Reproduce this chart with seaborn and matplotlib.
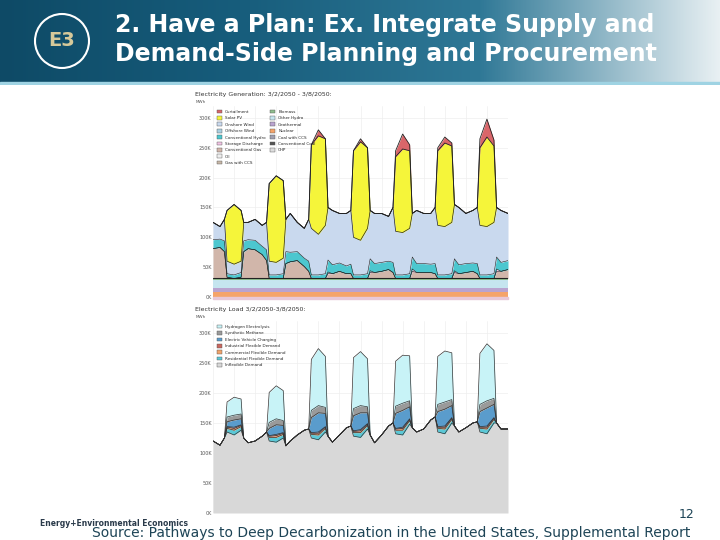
import numpy as np
import seaborn as sns
import matplotlib.pyplot as plt
from matplotlib.patches import Patch, Ellipse
from matplotlib.colors import LinearSegmentedColormap

# ---- data, thousands of MWh, sampled each day at these hours, 3/2/2050 to 3/9 00:00 ----
sample_hours = [0, 4, 6.5, 8, 12, 16, 17.5, 20]
n_days = 7

# generation: constant bottom bands
nuclear = 9
geothermal = 6
other_hydro = 14
biomass = 2
gas = [50, 52, 45, 2, 0, 2, 45, 50,
       48, 40, 30, 0, 0, 0, 25, 28,
       30, 20, 12, 0, 0, 0, 8, 8,
       12, 8, 8, 0, 0, 0, 10, 10,
       12, 15, 10, 0, 0, 0, 12, 10,
       10, 10, 8, 0, 0, 0, 10, 8,
       10, 12, 8, 0, 0, 0, 12, 12, 15]
storage = [0, 0, 0, 0, 0, 0, 0, 0,
           0, 0, 0, 0, 0, 0, 0, 0,
           0, 0, 0, 0, 0, 0, 3, 0,
           0, 0, 0, 0, 0, 0, 3, 0,
           0, 0, 0, 0, 0, 0, 4, 0,
           0, 0, 0, 0, 0, 0, 3, 0,
           0, 0, 0, 0, 0, 0, 4, 0, 0]
conv_hydro = [15, 14, 18, 6, 6, 8, 18, 15,
              16, 14, 18, 6, 6, 8, 20, 16,
              15, 14, 17, 6, 6, 8, 20, 15,
              14, 13, 16, 6, 6, 8, 20, 15,
              15, 14, 17, 6, 6, 8, 20, 15,
              15, 14, 17, 6, 6, 8, 20, 15,
              15, 14, 17, 6, 6, 8, 20, 15, 15]
wind_top = [125, 118, 130, 60, 55, 60, 125, 125,
            130, 120, 125, 60, 58, 65, 130, 140,
            125, 115, 130, 115, 105, 120, 150, 145,
            140, 140, 145, 100, 95, 115, 145, 140,
            140, 135, 150, 110, 108, 115, 140, 145,
            140, 140, 150, 120, 118, 125, 155, 150,
            140, 145, 150, 120, 118, 125, 150, 145, 140]
solar = [0, 0, 0, 85, 100, 85, 0, 0,
         0, 0, 0, 130, 145, 130, 0, 0,
         0, 0, 0, 140, 165, 145, 0, 0,
         0, 0, 0, 145, 165, 135, 0, 0,
         0, 0, 0, 125, 140, 130, 0, 0,
         0, 0, 0, 125, 140, 128, 0, 0,
         0, 0, 0, 130, 150, 128, 0, 0, 0]
curtailment = [0, 0, 0, 0, 0, 0, 0, 0,
               0, 0, 0, 0, 0, 0, 0, 0,
               0, 0, 0, 0, 10, 0, 0, 0,
               0, 0, 0, 0, 5, 0, 0, 0,
               0, 0, 0, 10, 25, 10, 0, 0,
               0, 0, 0, 5, 10, 5, 0, 0,
               0, 0, 0, 15, 30, 10, 0, 0, 0]

# load
inflexible = [120, 113, 125, 135, 130, 138, 125, 117,
              120, 128, 135, 120, 118, 125, 112, 120,
              130, 138, 140, 125, 122, 135, 128, 118,
              130, 142, 145, 128, 126, 140, 130, 117,
              130, 145, 150, 132, 130, 148, 142, 135,
              140, 155, 160, 135, 132, 150, 145, 135,
              142, 150, 152, 135, 132, 150, 150, 140, 140]
resid_flex = [0, 0, 0, 6, 8, 6, 0, 0] * 7 + [0]
comm_flex = [0, 0, 0, 2, 3, 2, 0, 0] * 7 + [0]
ind_flex = [0, 0, 0, 1, 2, 1, 0, 0] * 7 + [0]
ev = [0, 0, 0, 8, 12, 10, 0, 0,
      0, 0, 0, 12, 16, 12, 0, 0,
      0, 0, 0, 25, 32, 22, 0, 0,
      0, 0, 0, 25, 28, 18, 0, 0,
      0, 0, 0, 25, 28, 20, 0, 0,
      0, 0, 0, 25, 28, 20, 0, 0,
      0, 0, 0, 25, 30, 22, 0, 0, 0]
synth_ch4 = [0, 0, 0, 8, 8, 8, 0, 0,
             0, 0, 0, 10, 10, 8, 0, 0,
             0, 0, 0, 12, 12, 10, 0, 0,
             0, 0, 0, 12, 12, 10, 0, 0,
             0, 0, 0, 12, 12, 10, 0, 0,
             0, 0, 0, 12, 12, 10, 0, 0,
             0, 0, 0, 12, 12, 10, 0, 0, 0]
hydrogen = [0, 0, 0, 25, 30, 25, 0, 0,
            0, 0, 0, 50, 55, 50, 0, 0,
            0, 0, 0, 85, 95, 85, 0, 0,
            0, 0, 0, 85, 90, 80, 0, 0,
            0, 0, 0, 75, 80, 75, 0, 0,
            0, 0, 0, 80, 85, 78, 0, 0,
            0, 0, 0, 85, 95, 80, 0, 0, 0]

# legend: first column 9 entries, second 7 (two blanks pad it)
gen_legend = ["Curtailment", "Solar PV", "Onshore Wind", "Offshore Wind",
              "Conventional Hydro", "Storage Discharge", "Conventional Gas", "Oil", "Gas with CCS",
              "Biomass", "Other Hydro", "Geothermal", "Nuclear",
              "Coal with CCS", "Conventional Coal", "CHP", "", ""]
gen_colors = ["#d9666a", "#f5f53a", "#c9d9ee", "#a9cfe0",
              "#4cc7cf", "#f2c4e4", "#d1b6aa", "#eeeeee", "#c8b8a8",
              "#8fbf8f", "#c5e5ef", "#b9a3cf", "#f5a46a",
              "#a0a0b0", "#555555", "#dddddd", None, None]
load_legend = ["Hydrogen Electrolysis", "Synthetic Methane", "Electric Vehicle Charging",
               "Industrial Flexible Demand", "Commercial Flexible Demand",
               "Residential Flexible Demand", "Inflexible Demand"]
load_colors = ["#c8f3f7", "#9a9a9a", "#5a9ccc", "#c9675f", "#f0a36b", "#5bc8d6", "#d8d8d8"]

sns.set_style("whitegrid")
plt.rcParams['font.family'] = ['DejaVu Sans']
fig = plt.figure(figsize=(7.2, 5.4), dpi=100)

# header band
hdr = fig.add_axes([0, 1 - 85 / 540, 1, 85 / 540])
hdr.set_xlim(0, 720)
hdr.set_ylim(0, 85)
hcm = LinearSegmentedColormap.from_list("h", ["#0e4a66", "#175d7c", "#2f7896", "#e8f0f3"])
hdr.imshow(np.linspace(0, 1, 256)[None, :], aspect="auto", cmap=hcm, extent=[0, 720, 0, 85])
hdr.axhspan(0, 3, color="#9fd3e3")
hdr.set_axis_off()
hdr.add_patch(Ellipse((62, 44), 54, 54, fill=False, ec="white", lw=1.5))
hdr.text(62, 44, "E3", color="#d6c99a", fontsize=14, fontweight="bold", ha="center", va="center")
hdr.text(115, 60, "2. Have a Plan: Ex. Integrate Supply and", color="white",
         fontsize=17, fontweight="bold", va="center")
hdr.text(115, 31, "Demand-Side Planning and Procurement", color="white",
         fontsize=17, fontweight="bold", va="center")

t = np.array([d + h / 24 for d in range(n_days) for h in sample_hours] + [n_days])


def style(ax, title):
    ax.set_xlim(0, 7)
    ax.set_ylim(0, 320)
    ax.set_yticks([0, 50, 100, 150, 200, 250, 300])
    ax.set_yticklabels([f"{v}K" for v in [0, 50, 100, 150, 200, 250, 300]], fontsize=3.5, color="#555")
    ax.set_xticks(np.arange(0, 7.01, 0.5))
    ax.set_xticklabels([])
    ax.tick_params(length=0, pad=1)
    ax.grid(color="#eeeeee", lw=0.5)
    for s in ax.spines.values():
        s.set_visible(False)
    ax.text(-0.06, 1.05, title, transform=ax.transAxes, fontsize=4.5, color="#333")
    ax.text(-0.06, 1.015, "MWh", transform=ax.transAxes, fontsize=3, color="#555")


# generation chart
ax1 = fig.add_axes([213 / 720, (540 - 297) / 540, 295 / 720, 191 / 540])
b0 = np.zeros(len(t))
for v, c in [(nuclear, "#f5a46a"), (geothermal, "#b9a3cf"), (other_hydro, "#c5e5ef"), (biomass, "#8fbf8f")]:
    top = b0 + v
    ax1.fill_between(t, b0, top, color=c, lw=0)
    b0 = top
ax1.plot(t, b0, color="#222", lw=0.8)
for v, c in [(gas, "#d1b6aa"), (storage, "#f2c4e4"), (conv_hydro, "#4cc7cf")]:
    top = b0 + np.array(v)
    ax1.fill_between(t, b0, top, color=c, lw=0)
    ax1.plot(t, top, color="#222", lw=0.4)
    b0 = top
wt = np.array(wind_top, float)
ax1.fill_between(t, b0, wt, color="#c9d9ee", lw=0)
st = wt + np.array(solar)
ax1.fill_between(t, wt, st, color="#f5f53a", lw=0)
ct = st + np.array(curtailment)
ax1.fill_between(t, st, ct, color="#d9666a", lw=0)
sns.lineplot(x=t, y=wt, ax=ax1, color="#222", lw=0.5)
sns.lineplot(x=t, y=st, ax=ax1, color="#222", lw=0.6)
sns.lineplot(x=t, y=ct, ax=ax1, color="#222", lw=0.6)
ax1.axhspan(-4, 0, color="#e8c8d8", clip_on=False)
style(ax1, "Electricity Generation: 3/2/2050 - 3/8/2050:")
h = [Patch(fc=c, ec="#555", lw=0.3) if c else Patch(fc="none", ec="none") for c in gen_colors]
ax1.legend(h, gen_legend, ncol=2, fontsize=3, loc="upper left", frameon=False,
           handlelength=1.2, handleheight=1.0, labelspacing=0.5, columnspacing=1.0,
           bbox_to_anchor=(0.0, 1.0))

# load chart
ax2 = fig.add_axes([213 / 720, (540 - 513) / 540, 295 / 720, 192 / 540])
b0 = np.zeros(len(t))
for v, c in [(inflexible, "#d8d8d8"), (resid_flex, "#5bc8d6"), (comm_flex, "#f0a36b"),
             (ind_flex, "#c9675f"), (ev, "#5a9ccc"), (synth_ch4, "#9a9a9a"), (hydrogen, "#c8f3f7")]:
    top = b0 + np.array(v)
    ax2.fill_between(t, b0, top, color=c, lw=0)
    sns.lineplot(x=t, y=top, ax=ax2, color="#333", lw=0.5)
    b0 = top
style(ax2, "Electricity Load 3/2/2050-3/8/2050:")
h = [Patch(fc=c, ec="#555", lw=0.3) for c in load_colors]
ax2.legend(h, load_legend, fontsize=3, loc="upper left", frameon=False,
           handlelength=1.2, handleheight=1.0, labelspacing=0.5)

# footer
fig.text(40 / 720, 1 - 523 / 540, "Energy+Environmental Economics", fontsize=5.5, fontweight="bold",
         color="#2a3a4a", va="center")
fig.text(92 / 720, 1 - 533 / 540, "Source: Pathways to Deep Decarbonization in the United States, Supplemental Report",
         fontsize=10, color="#1d4456", va="center")
fig.text(694 / 720, 1 - 515 / 540, "12", fontsize=9, color="#1d4456", ha="right", va="center")

fig.savefig("out.png", dpi=100)
